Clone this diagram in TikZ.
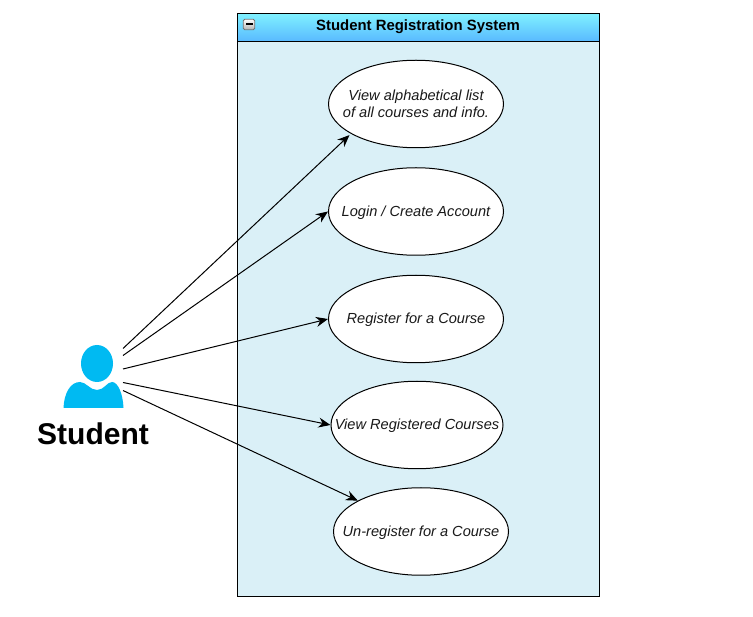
\documentclass[tikz,border=0pt]{standalone}
\usepackage{fontspec}
\setmainfont{Liberation Sans}
\usetikzlibrary{shapes.geometric,arrows.meta}
\definecolor{bodyfill}{HTML}{DAF0F7}
\definecolor{headtop}{HTML}{80F2FF}
\definecolor{headbot}{HTML}{58B8FF}
\definecolor{actorblue}{HTML}{00BAF2}
\newcommand{\uctext}[1]{\makebox[0pt][c]{\raisebox{-5pt}[0pt][0pt]{\begin{tabular}{@{}c@{}}#1\end{tabular}}}}
\tikzset{
  usecase/.style={draw=black,fill=white,ellipse,line width=1pt,inner sep=0pt,minimum width=175pt,minimum height=87.5pt,font=\fontsize{14.6}{17}\selectfont\itshape,text=black!90},
  flow/.style={draw=black,line width=1pt,-{Stealth[length=12pt,width=10pt]}}
}
\begin{document}
\begin{tikzpicture}[x=1pt,y=-1pt]
\useasboundingbox (0,0) rectangle (753,617);
\fill[white] (0,0) rectangle (753,617);
\node[draw=black,line width=1pt,fill=bodyfill,minimum width=362.4pt,minimum height=583.4pt,inner sep=0pt] (sys) at (418.5,305.2) {};
\node[draw=black,line width=1pt,top color=headtop,bottom color=headbot,minimum width=362.4pt,minimum height=28.5pt,inner sep=0pt] (head) at (418.5,27.5) {};
\node[font=\fontsize{14.9}{17}\selectfont\bfseries,inner sep=0pt] (title) at (418,27) {Student Registration System};
\node[draw=black!55,rounded corners=1.5pt,top color=white,bottom color=black!30,minimum width=11.5pt,minimum height=10.5pt,inner sep=0pt,line width=0.8pt] (btn) at (249,24.5) {};
\node[fill=black,minimum width=7pt,minimum height=2pt,inner sep=0pt] (btnbar) at (249,24.5) {};
\node[usecase] (e1) at (416,104) {\uctext{View alphabetical list\\of all courses and info.}};
\node[usecase] (e2) at (416,211.5) {\uctext{Login / Create Account}};
\node[usecase] (e3) at (416,319) {\uctext{Register for a Course}};
\node[usecase,minimum width=172pt] (e4) at (417,425) {\uctext{View Registered Courses}};
\node[usecase] (e5) at (421,531.5) {\uctext{Un-register for a Course}};
% actor
\fill[actorblue] (97,363.5) ellipse [x radius=16, y radius=18.5];
\fill[actorblue] (63.5,408) .. controls (64,394) and (70,382) .. (80,382) .. controls (86,382) and (90,390) .. (97,390) .. controls (104,390) and (107,382) .. (112,382) .. controls (118,382) and (123,394) .. (123.5,408) -- cycle;
\node[font=\fontsize{30}{36}\selectfont\bfseries,inner sep=0pt] (actor) at (93,434) {Student};
\coordinate (s1) at (123,348.5);
\coordinate (s2) at (123,355.5);
\coordinate (s3) at (123,369);
\coordinate (s4) at (123,382.5);
\coordinate (s5) at (123,390.5);
\draw[flow] (s1) -- ([shift={(-2,1)}]e1.205.5);
\draw[flow] (s2) -- (e2.west);
\draw[flow] (s3) -- (e3.west);
\draw[flow] (s4) -- (e4.west);
\draw[flow] (s5) -- (e5.154.5);
\end{tikzpicture}
\end{document}
